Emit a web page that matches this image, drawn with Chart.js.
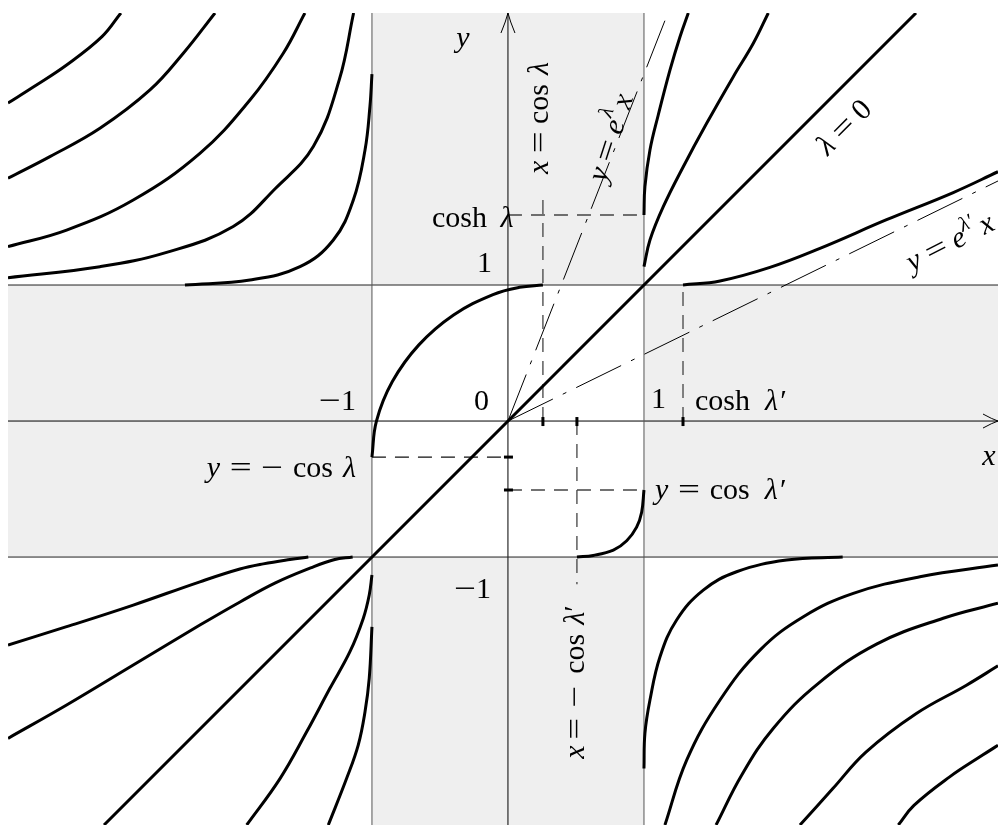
<!DOCTYPE html>
<html>
<head>
<meta charset="utf-8">
<script src="https://cdn.jsdelivr.net/npm/chart.js@4.4.0/dist/chart.umd.min.js"></script>
<style>
html,body{margin:0;padding:0;background:#fff;}
#wrap{width:998px;height:825px;position:relative;}
</style>
</head>
<body>
<div id="wrap"><canvas id="c"></canvas></div>
<script>
// visible window in data units
const xMin = -3.676, xMax = 3.603, yMin = -2.97, yMax = 3.0;

// heavy curves, [x, y]
const curveTL1 = [[-3.676,2.338],[-3.49,2.456],[-3.245,2.618],[-2.985,2.826],[-2.846,3.0]];
const curveTL2 = [[-3.676,1.785],[-3.368,1.944],[-3.0,2.152],[-2.632,2.434],[-2.387,2.704],[-2.154,3.0]];
const curveTL3 = [[-3.676,1.282],[-3.245,1.404],[-2.755,1.625],[-2.265,1.968],[-1.897,2.36],[-1.652,2.704],[-1.493,3.0]];
const curveTL4 = [[-3.676,1.054],[-3.0,1.135],[-2.51,1.24],[-2.02,1.43],[-1.71,1.71],[-1.43,2.02],[-1.24,2.51],[-1.135,3.0]];
const curveTL5 = [[-2.375,1.0],[-1.897,1.037],[-1.529,1.135],[-1.284,1.331],[-1.137,1.625],[-1.051,1.993],[-1.015,2.311],[-1.0,2.551]];

const curveTR1 = [[1.0,1.515],[1.007,1.723],[1.044,1.993],[1.105,2.25],[1.191,2.58],[1.265,2.826],[1.326,3.0]];
const curveTR2 = [[1.0,1.135],[1.044,1.331],[1.142,1.576],[1.289,1.87],[1.461,2.189],[1.657,2.532],[1.804,2.777],[1.914,3.0]];
const curveTR3 = [[1.287,1.0],[1.559,1.03],[1.926,1.13],[2.294,1.27],[2.784,1.48],[3.274,1.68],[3.603,1.833]];

const curveBL1 = [[-3.676,-1.647],[-3.245,-1.512],[-2.755,-1.353],[-2.265,-1.182],[-1.971,-1.088],[-1.799,-1.05],[-1.603,-1.018],[-1.468,-1.0]];
const curveBL2 = [[-3.676,-2.333],[-3.245,-2.088],[-2.755,-1.794],[-2.265,-1.5],[-1.97,-1.33],[-1.71,-1.19],[-1.451,-1.08],[-1.28,-1.02],[-1.142,-1.0]];
const curveBL3 = [[-1.0,-1.132],[-1.02,-1.279],[-1.064,-1.451],[-1.162,-1.696],[-1.309,-1.965],[-1.48,-2.285],[-1.676,-2.629],[-1.921,-2.97]];
const curveBL4 = [[-1.0,-1.513],[-1.02,-1.892],[-1.051,-2.137],[-1.101,-2.382],[-1.186,-2.627],[-1.321,-2.97]];

const curveBR1 = [[2.461,-1.0],[2.049,-1.022],[1.681,-1.108],[1.436,-1.243],[1.24,-1.463],[1.118,-1.733],[1.044,-2.051],[1.007,-2.296],[1.0,-2.554]];
const curveBR2 = [[3.603,-1.059],[3.029,-1.145],[2.539,-1.267],[2.172,-1.439],[1.853,-1.684],[1.559,-2.051],[1.314,-2.493],[1.154,-2.97]];
const curveBR3 = [[3.603,-1.34],[3.2,-1.45],[2.71,-1.64],[2.28,-1.93],[1.95,-2.26],[1.72,-2.6],[1.53,-2.97]];
const curveBR4 = [[3.603,-1.8],[3.368,-1.944],[3.0,-2.152],[2.632,-2.434],[2.387,-2.704],[2.147,-2.97]];
const curveBR5 = [[3.603,-2.384],[3.49,-2.456],[3.245,-2.618],[2.985,-2.826],[2.87,-2.97]];

const lambdaZero = [[-2.97,-2.97],[3.0,3.0]];
const arcInner = [[-1.0,-0.265],[-0.967,0.0],[-0.85,0.29],[-0.655,0.56],[-0.4,0.78],[-0.11,0.93],[0.085,0.983],[0.257,1.0]];
const arcLower = [[0.507,-1.0],[0.627,-0.988],[0.775,-0.949],[0.873,-0.88],[0.946,-0.78],[0.983,-0.67],[1.0,-0.507]];

// asymptotes y = e^λ x and y = e^λ' x
const asymSteep = [[0,0],[1.176,3.0]];
const asymFlat = [[0,0],[3.603,1.765]];

// dashed guides
const guideCoshLam = [[0,1.515],[1.0,1.515]];
const guideCosLam = [[0.257,0],[0.257,1.625]];
const guideMinusCosLam = [[-1.0,-0.265],[0,-0.265]];
const guideCosLamP = [[0,-0.507],[1.0,-0.507]];
const guideMinusCosLamP = [[0.507,0],[0.507,-1.2]];
const guideCoshLamP = [[1.287,0],[1.287,1.0]];

// short tick marks
const xTicks = [0.257, 0.507, 1.287];
const yTicks = [-0.265, -0.507];

// shaded strips [x0, x1, y0, y1]
const bands = [[-1,1,1,yMax],[-1,1,yMin,-1],[xMin,-1,-1,1],[1,xMax,-1,1]];

const FONT = '"Liberation Serif", "DejaVu Serif", serif';
const FS = 30;

// math labels: parts are [text, style] with style r roman, i italic, s superscript, o operator;
// a bare number is a gap in em
const labels = [
  {parts:[['cosh','r'],0.45,['λ','i']], at:[-0.559,1.426], align:'left'},
  {parts:[['1','r']], at:[-0.118,1.096], align:'right'},
  {parts:[['0','r']], at:[-0.14,0.081], align:'right'},
  {parts:[['1','r']], at:[1.051,0.096], align:'left'},
  {parts:[['−','o'],['1','r']], at:[-1.118,0.081], align:'right'},
  {parts:[['cosh','r'],0.5,['λ','i'],0.08,['′','r']], at:[1.375,0.081], align:'left'},
  {parts:[['y','i'],0.33,['=','o'],0.33,['−','o'],0.33,['cos','r'],0.33,['λ','i']], at:[-1.118,-0.412], align:'right'},
  {parts:[['y','i'],0.33,['=','o'],0.33,['cos','r'],0.5,['λ','i'],0.08,['′','r']], at:[1.081,-0.574], align:'left'},
  {parts:[['−','o'],['1','r']], at:[-0.125,-1.301], align:'right'},
  {parts:[['x','i']], at:[3.537,-0.324], align:'center'},
  {parts:[['y','i']], at:[-0.331,2.75], align:'center'},
  {parts:[['x','i'],0.25,['=','o'],0.25,['cos','r'],0.3,['λ','i']], at:[0.235,2.228], align:'center', angle:-90, mid:true},
  {parts:[['x','i'],0.2,['=','o'],0.35,['−','o'],0.4,['cos','r'],0.3,['λ','i'],['′','r']], at:[0.5,-1.919], align:'center', angle:-90, mid:true},
  {parts:[['λ','i'],0.25,['=','o'],0.25,['0','r']], at:[2.478,2.154], align:'center', angle:-45, mid:true},
  {parts:[['y','i'],0.25,['=','o'],0.25,['e','i'],['λ','s'],0.15,['x','i']], at:[0.765,2.081], align:'center', angle:-72, mid:true},
  {parts:[['y','i'],0.25,['=','o'],0.25,['e','i'],['λ′','s'],0.15,['x','i']], at:[2.971,1.096], align:'left', angle:-27}
];

function drawMath(ctx, parts, size, x, y, align, angle, mid){
  ctx.save();
  ctx.translate(x, y);
  if(angle) ctx.rotate(angle*Math.PI/180);
  ctx.textBaseline = mid ? 'middle' : 'alphabetic';
  ctx.textAlign = 'left';
  ctx.fillStyle = '#000';
  const fontOf = p => (p[1]==='r' || p[1]==='o' ? '' : 'italic ') + (p[1]==='s' ? size*0.7 : size) + 'px ' + FONT;
  let total = 0;
  const widths = parts.map(p => {
    if(typeof p === 'number') { total += p*size; return p*size; }
    if(p[1]==='o') { total += 0.72*size; return 0.72*size; }
    ctx.font = fontOf(p);
    const w = ctx.measureText(p[0]).width; total += w; return w;
  });
  let cx = align==='center' ? -total/2 : align==='right' ? -total : 0;
  parts.forEach((p,i) => {
    if(typeof p !== 'number'){
      ctx.font = fontOf(p);
      if(p[1]==='o'){
        // widen operators a little, as in the TeX originals
        const gw = ctx.measureText(p[0]).width;
        ctx.save();
        ctx.translate(cx + widths[i]/2, 0);
        ctx.scale(1.3, 1);
        ctx.fillText(p[0], -gw/2, 0);
        ctx.restore();
      } else {
        ctx.fillText(p[0], cx, p[1]==='s' ? -size*0.42 : 0);
      }
    }
    cx += widths[i];
  });
  ctx.restore();
}

const pts = arr => arr.map(p => ({x:p[0], y:p[1]}));
const datasets = [];
function addLine(arr, opts){
  datasets.push(Object.assign({data:pts(arr), showLine:true, pointRadius:0, borderColor:'#000', borderWidth:1, tension:0, fill:false}, opts));
}

[curveTL1,curveTL2,curveTL3,curveTL4,curveTL5,curveTR1,curveTR2,curveTR3,
 curveBL1,curveBL2,curveBL3,curveBL4,curveBR1,curveBR2,curveBR3,curveBR4,curveBR5,
 arcInner,arcLower].forEach(c => addLine(c, {borderWidth:3, tension:0.4}));
addLine(lambdaZero, {borderWidth:3});
addLine(asymSteep, {borderWidth:1, borderDash:[50,11,4,11]});
addLine(asymFlat, {borderWidth:1, borderDash:[50,11,4,11]});
addLine(guideCoshLam, {borderWidth:1.3, borderColor:'#444', borderDash:[14,9]});
addLine(guideCosLam, {borderWidth:1.3, borderColor:'#444', borderDash:[14,9]});
addLine(guideMinusCosLam, {borderWidth:1.3, borderColor:'#111', borderDash:[14,9]});
addLine(guideCosLamP, {borderWidth:1.3, borderColor:'#444', borderDash:[14,9]});
addLine(guideMinusCosLamP, {borderWidth:1.3, borderColor:'#444', borderDash:[14,9]});
addLine(guideCoshLamP, {borderWidth:1.3, borderColor:'#444', borderDash:[14,9]});
// frame lines x = ±1, y = ±1 and the axes
addLine([[-1,yMin],[-1,yMax]], {borderColor:'#555'});
addLine([[1,yMin],[1,yMax]], {borderColor:'#555'});
addLine([[xMin,-1],[xMax,-1]], {borderColor:'#222'});
addLine([[xMin,1],[xMax,1]], {borderColor:'#222'});
addLine([[xMin,0],[xMax,0]], {borderColor:'#000'});
addLine([[0,yMin],[0,yMax]], {borderColor:'#000'});

const decor = {
  id:'decor',
  beforeDatasetsDraw(chart){
    const {ctx, scales:{x, y}} = chart;
    ctx.save();
    ctx.fillStyle = '#efefef';
    bands.forEach(b => {
      const l = x.getPixelForValue(b[0]), r = x.getPixelForValue(b[1]);
      const t = y.getPixelForValue(b[3]), bt = y.getPixelForValue(b[2]);
      ctx.fillRect(l, t, r-l, bt-t);
    });
    ctx.restore();
  },
  afterDatasetsDraw(chart){
    const {ctx, scales:{x, y}} = chart;
    const ox = x.getPixelForValue(0), oy = y.getPixelForValue(0);
    ctx.save();
    ctx.strokeStyle = '#000';
    ctx.lineWidth = 3;
    xTicks.forEach(v => {
      const px = x.getPixelForValue(v);
      ctx.beginPath(); ctx.moveTo(px, oy-4); ctx.lineTo(px, oy+5); ctx.stroke();
    });
    yTicks.forEach(v => {
      const py = y.getPixelForValue(v);
      ctx.beginPath(); ctx.moveTo(ox-4, py); ctx.lineTo(ox+5, py); ctx.stroke();
    });
    // arrow heads
    ctx.lineWidth = 1;
    const tx = x.getPixelForValue(xMax), ty = y.getPixelForValue(yMax);
    ctx.beginPath();
    ctx.moveTo(tx-15, oy-7); ctx.quadraticCurveTo(tx-6, oy-2, tx, oy); ctx.quadraticCurveTo(tx-6, oy+2, tx-15, oy+7);
    ctx.moveTo(ox-7, ty+20); ctx.quadraticCurveTo(ox-2, ty+8, ox, ty); ctx.quadraticCurveTo(ox+2, ty+8, ox+7, ty+20);
    ctx.stroke();
    ctx.restore();
    labels.forEach(lb => {
      drawMath(ctx, lb.parts, FS, x.getPixelForValue(lb.at[0]), y.getPixelForValue(lb.at[1]), lb.align, lb.angle, lb.mid);
    });
  }
};

new Chart(document.getElementById('c'), {
  type:'scatter',
  data:{datasets},
  options:{
    responsive:true,
    maintainAspectRatio:false,
    animation:false,
    layout:{padding:{left:8, top:13, right:0, bottom:0}},
    elements:{line:{capBezierPoints:false}},
    plugins:{legend:{display:false}, tooltip:{enabled:false}},
    scales:{
      x:{type:'linear', min:xMin, max:xMax, display:false},
      y:{type:'linear', min:yMin, max:yMax, display:false}
    }
  },
  plugins:[decor]
});
</script>
</body>
</html>
